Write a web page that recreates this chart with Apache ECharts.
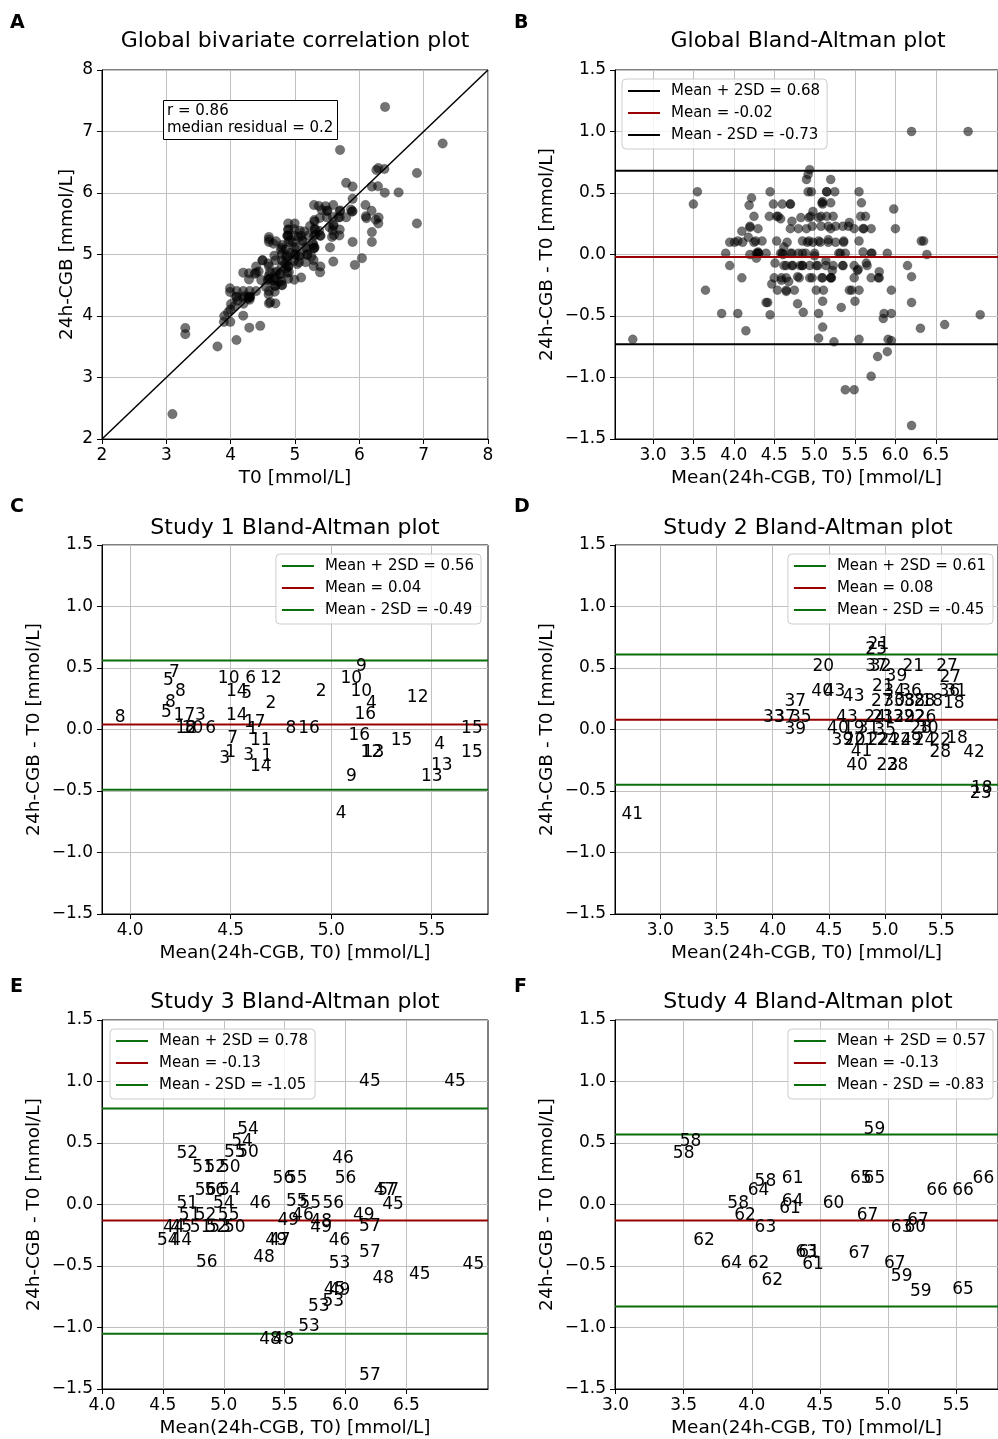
<!DOCTYPE html>
<html><head><meta charset="utf-8">
<script src="https://cdn.jsdelivr.net/npm/echarts@6/dist/echarts.min.js"></script>
<style>html,body{margin:0;padding:0;background:#fff}#chart{width:998px;height:1439px}</style>
</head><body><div id="chart"></div>
<script>
// ---------------- DATA (mean of the two methods, difference 24h-CGB - T0, subject id) ----------------
const s1Id   = [8,7,5,8,8,5,17,3,12,8,10,6,10,6,12,14,5,2,14,17,1,7,11,1,3,3,1,14,8,16,2,9,10,10,4,16,16,12,13,9,4,12,15,4,13,13,15,15];
const s1Mean = [3.95,4.22,4.19,4.25,4.20,4.18,4.27,4.35,4.28,4.30,4.31,4.40,4.49,4.60,4.70,4.53,4.58,4.70,4.53,4.62,4.61,4.51,4.65,4.50,4.47,4.59,4.68,4.65,4.80,4.89,4.95,5.15,5.10,5.15,5.20,5.17,5.14,5.20,5.21,5.10,5.05,5.43,5.35,5.54,5.55,5.50,5.70,5.70];
const s1Diff = [0.10,0.46,0.40,0.31,0.22,0.14,0.11,0.11,0.01,0.01,0.01,0.01,0.41,0.41,0.41,0.31,0.29,0.21,0.11,0.06,0.00,-0.07,-0.09,-0.19,-0.24,-0.21,-0.22,-0.30,0.01,0.01,0.31,0.51,0.41,0.31,0.21,0.12,-0.05,-0.19,-0.19,-0.38,-0.68,0.26,-0.09,-0.12,-0.29,-0.38,0.01,-0.19];

const s2Id   = [21,25,20,37,32,21,27,39,27,40,43,43,21,34,36,36,31,18,27,30,38,38,28,18,43,24,21,33,29,22,26,37,33,37,35,39,40,19,31,35,28,30,39,20,21,22,24,24,29,24,22,18,28,42,41,40,23,28,18,23,41];
const s2Mean = [4.94,4.92,4.45,4.92,4.96,5.25,5.55,5.10,5.58,4.44,4.55,4.72,4.98,5.08,5.23,5.57,5.63,5.61,4.97,5.08,5.17,5.26,5.35,5.42,4.66,4.91,4.98,5.07,5.17,5.26,5.36,4.20,4.01,4.11,4.25,4.20,4.58,4.72,4.85,5.00,5.32,5.38,4.62,4.73,4.82,4.94,5.02,5.14,5.23,5.35,5.49,5.64,5.49,5.79,4.79,4.75,5.02,5.11,5.86,5.85,2.75];
const s2Diff = [0.69,0.65,0.51,0.51,0.51,0.51,0.51,0.43,0.42,0.31,0.31,0.27,0.35,0.31,0.31,0.31,0.31,0.21,0.23,0.23,0.23,0.23,0.23,0.23,0.10,0.10,0.10,0.10,0.10,0.10,0.10,0.23,0.10,0.10,0.10,0.00,0.01,0.01,0.01,-0.01,0.01,0.01,-0.09,-0.09,-0.09,-0.09,-0.09,-0.09,-0.09,-0.09,-0.09,-0.07,-0.19,-0.19,-0.18,-0.29,-0.29,-0.29,-0.48,-0.52,-0.69];

const s3Id   = [54,54,55,50,52,51,52,50,56,55,46,56,56,56,54,47,57,51,54,46,55,55,56,45,51,52,55,46,49,48,49,49,57,44,45,51,52,53,50,54,44,49,47,46,56,48,53,57,48,45,45,45,49,53,53,53,48,48,57,45,45];
const s3Mean = [5.20,5.15,5.09,5.20,4.70,4.83,4.93,5.05,5.49,5.60,5.98,6.00,4.85,4.93,5.05,6.32,6.35,4.70,5.00,5.30,5.60,5.71,5.90,6.39,4.72,4.85,5.04,5.65,5.53,5.80,5.80,6.15,6.20,4.59,4.65,4.81,4.94,4.97,5.09,4.54,4.65,5.43,5.46,5.95,4.86,5.33,5.95,6.20,6.31,6.61,7.05,5.91,5.95,5.90,5.78,5.70,5.38,5.49,6.20,6.20,6.90];
const s3Diff = [0.61,0.51,0.42,0.42,0.41,0.30,0.30,0.30,0.21,0.21,0.37,0.21,0.11,0.11,0.11,0.11,0.11,0.01,0.01,0.01,0.02,0.01,0.01,0.00,-0.09,-0.09,-0.09,-0.09,-0.13,-0.14,-0.19,-0.09,-0.18,-0.19,-0.19,-0.19,-0.19,-0.19,-0.19,-0.29,-0.29,-0.29,-0.29,-0.29,-0.47,-0.43,-0.48,-0.39,-0.60,-0.57,-0.49,-0.69,-0.70,-0.79,-0.83,-0.99,-1.10,-1.10,-1.39,1.00,1.00];

const s4Id   = [59,58,58,58,61,64,65,65,66,66,66,58,64,61,60,62,67,63,63,60,67,62,63,61,67,64,62,61,67,59,59,65,62];
const s4Mean = [4.90,3.55,3.50,4.10,4.30,4.05,4.80,4.90,5.36,5.55,5.70,3.90,4.30,4.28,4.60,3.95,4.85,4.10,5.10,5.20,5.22,3.65,4.40,4.42,4.79,3.85,4.05,4.45,5.05,5.10,5.24,5.55,4.15];
const s4Diff = [0.61,0.51,0.41,0.19,0.21,0.11,0.21,0.21,0.11,0.11,0.21,0.01,0.02,-0.03,0.01,-0.09,-0.09,-0.19,-0.19,-0.19,-0.13,-0.29,-0.39,-0.39,-0.40,-0.48,-0.48,-0.49,-0.48,-0.59,-0.71,-0.69,-0.62];

// Limits of agreement as printed in the legends
const gLoA  = [0.68, -0.02, -0.73];
const s1LoA = [0.56, 0.04, -0.49];
const s2LoA = [0.61, 0.08, -0.45];
const s3LoA = [0.78, -0.13, -1.05];
const s4LoA = [0.57, -0.13, -0.83];

// axis ranges and tick labels
const aRange  = [2, 8];
const aTicks  = [2, 3, 4, 5, 6, 7, 8];
const baYRange = [-1.5, 1.5];
const baYTicks = [-1.5, -1.0, -0.5, 0, 0.5, 1.0, 1.5];
const bXRange = [2.53, 7.27];
const bXTicks = [3.0, 3.5, 4.0, 4.5, 5.0, 5.5, 6.0, 6.5];
const cXRange = [3.86, 5.78];
const cXTicks = [4.0, 4.5, 5.0, 5.5];
const dXRange = [2.597, 6.004];
const dXTicks = [3.0, 3.5, 4.0, 4.5, 5.0, 5.5];
const eXRange = [4.0, 7.17];
const eXTicks = [4.0, 4.5, 5.0, 5.5, 6.0, 6.5];
const fXRange = [2.996, 5.807];
const fXTicks = [3.0, 3.5, 4.0, 4.5, 5.0, 5.5];

// ---------------- BUILD ----------------
const FONT = 'DejaVu Sans';
const GREEN = '#0a6e0a', RED = '#990000', BLACK = '#000000';

function zip(m, d, id) { return m.map((v, i) => id ? [v, d[i], id[i]] : [v, d[i]]); }
const allMean = [].concat(s1Mean, s2Mean, s3Mean, s4Mean);
const allDiff = [].concat(s1Diff, s2Diff, s3Diff, s4Diff);
// Panel A pairs: T0 = mean - diff/2, 24h-CGB = mean + diff/2
const corrData = allMean.map((m, i) => [m - allDiff[i] / 2, m + allDiff[i] / 2]);
const baData = zip(allMean, allDiff);

const grids = [
  {left: 102, top: 70, width: 386, height: 369},
  {left: 615, top: 70, width: 386, height: 369},
  {left: 102, top: 545, width: 386, height: 369},
  {left: 615, top: 545, width: 386, height: 369},
  {left: 102, top: 1020, width: 386, height: 369},
  {left: 615, top: 1020, width: 386, height: 369}
].map(g => Object.assign({show: true, borderColor: '#000', borderWidth: 1, backgroundColor: 'transparent', containLabel: false}, g));

const fmt1 = v => (v < 0 ? '\u2212' : '') + Math.abs(v).toFixed(1);
const fmt0 = v => String(Math.round(v));

function axis(i, range, ticks, fmt, name, isY, nameGap) {
  return {
    gridIndex: i, type: 'value', min: range[0], max: range[1],
    name: name, nameLocation: 'middle', nameGap: nameGap,
    nameTextStyle: {fontFamily: FONT, fontSize: 18.5, color: '#000'},
    axisLine: {show: true, onZero: false, lineStyle: {color: '#000', width: 1}},
    axisTick: {show: true, length: 5, inside: false, lineStyle: {color: '#000', width: 1}, customValues: ticks},
    axisLabel: {customValues: ticks, formatter: fmt, margin: isY ? 9 : 8, fontFamily: FONT, fontSize: 17, color: '#000'},
    splitLine: {show: true, lineStyle: {color: '#c0c0c0', width: 1}}
  };
}

const xLabelBA = 'Mean(24h-CGB, T0) [mmol/L]';
const yLabelBA = '24h-CGB - T0 [mmol/L]';
const xAxes = [
  axis(0, aRange, aTicks, fmt0, 'T0 [mmol/L]', false, 30),
  axis(1, bXRange, bXTicks, fmt1, xLabelBA, false, 30),
  axis(2, cXRange, cXTicks, fmt1, xLabelBA, false, 30),
  axis(3, dXRange, dXTicks, fmt1, xLabelBA, false, 30),
  axis(4, eXRange, eXTicks, fmt1, xLabelBA, false, 30),
  axis(5, fXRange, fXTicks, fmt1, xLabelBA, false, 30)
];
const yAxes = [
  axis(0, aRange, aTicks, fmt0, '24h-CGB [mmol/L]', true, 25),
  axis(1, baYRange, baYTicks, fmt1, yLabelBA, true, 58),
  axis(2, baYRange, baYTicks, fmt1, yLabelBA, true, 58),
  axis(3, baYRange, baYTicks, fmt1, yLabelBA, true, 58),
  axis(4, baYRange, baYTicks, fmt1, yLabelBA, true, 58),
  axis(5, baYRange, baYTicks, fmt1, yLabelBA, true, 58)
];

const dotStyle = {color: 'rgba(0,0,0,0.55)', opacity: 1, borderColor: 'rgba(0,0,0,0.25)', borderWidth: 0.8};
const series = [];
// Panel A
series.push({type: 'scatter', xAxisIndex: 0, yAxisIndex: 0, data: corrData, symbolSize: 9.5,
  itemStyle: dotStyle, silent: true, z: 3});
series.push({type: 'line', xAxisIndex: 0, yAxisIndex: 0, data: [[aRange[0], aRange[0]], [aRange[1], aRange[1]]],
  showSymbol: false, symbol: 'none', lineStyle: {color: '#000', width: 1.5}, silent: true, z: 4});
// Panel B
series.push({type: 'scatter', xAxisIndex: 1, yAxisIndex: 1, data: baData, symbolSize: 9,
  itemStyle: dotStyle, silent: true, z: 3});

function loaNames(loa) {
  return ['Mean + 2SD = ' + loa[0].toFixed(2), 'Mean = ' + loa[1].toFixed(2), 'Mean - 2SD = ' + loa[2].toFixed(2)];
}
function addLoA(idx, loa, xr, limColor) {
  const names = loaNames(loa);
  const cols = [limColor, RED, limColor];
  loa.forEach((v, k) => {
    series.push({type: 'line', name: names[k], xAxisIndex: idx, yAxisIndex: idx,
      data: [[xr[0], v], [xr[1], v]], showSymbol: false, symbol: 'none', color: cols[k],
      itemStyle: {color: cols[k]}, lineStyle: {color: cols[k], width: 2}, silent: true, z: 5});
  });
  return names;
}
const bNames = addLoA(1, gLoA, bXRange, BLACK);

function addLabels(idx, m, d, id) {
  series.push({type: 'scatter', xAxisIndex: idx, yAxisIndex: idx, data: zip(m, d, id), symbolSize: 1,
    itemStyle: {color: 'rgba(0,0,0,0)', opacity: 1}, silent: true, z: 6,
    label: {show: true, position: 'inside', formatter: p => String(p.value[2]), opacity: 1,
      textBorderWidth: 0, textBorderColor: 'transparent',
      fontFamily: FONT, fontSize: 17, color: '#000'}});
}
addLabels(2, s1Mean, s1Diff, s1Id);
const cNames = addLoA(2, s1LoA, cXRange, GREEN);
addLabels(3, s2Mean, s2Diff, s2Id);
const dNames = addLoA(3, s2LoA, dXRange, GREEN);
addLabels(4, s3Mean, s3Diff, s3Id);
const eNames = addLoA(4, s3LoA, eXRange, GREEN);
addLabels(5, s4Mean, s4Diff, s4Id);
const fNames = addLoA(5, s4LoA, fXRange, GREEN);

function legend(pos, names) {
  return Object.assign({
    orient: 'vertical', itemWidth: 32, itemHeight: 2, icon: 'rect', itemGap: 4,
    backgroundColor: 'rgba(255,255,255,0.8)', borderColor: '#cccccc', borderWidth: 1, borderRadius: 4,
    padding: [3, 7, 5, 6], selectedMode: false,
    textStyle: {fontFamily: FONT, fontSize: 15, color: '#000', lineHeight: 18, padding: [0, 0, 0, 6]},
    data: names
  }, pos);
}

function title(text, cx, top, size, bold) {
  return {text: text, left: cx, top: top, textAlign: bold ? 'left' : 'center', padding: 0,
    textStyle: {fontFamily: FONT, fontSize: size, fontWeight: bold ? 'bold' : 'normal', color: '#000', lineHeight: size + 4}};
}

const option = {
  animation: false,
  backgroundColor: '#ffffff',
  title: [
    title('Global bivariate correlation plot', 295, 28, 22),
    title('Global Bland-Altman plot', 808, 28, 22),
    title('Study 1 Bland-Altman plot', 295, 515, 22),
    title('Study 2 Bland-Altman plot', 808, 515, 22),
    title('Study 3 Bland-Altman plot', 295, 989, 22),
    title('Study 4 Bland-Altman plot', 808, 989, 22),
    title('A', 10, 12, 19, true),
    title('B', 514, 12, 19, true),
    title('C', 10, 496, 19, true),
    title('D', 514, 496, 19, true),
    title('E', 10, 976, 19, true),
    title('F', 514, 976, 19, true),
    {text: 'r = 0.86\nmedian residual = 0.2', left: 163, top: 100, padding: [3, 4, 4, 4],
      borderWidth: 1, borderColor: '#000', backgroundColor: '#fff',
      textStyle: {fontFamily: FONT, fontSize: 15, fontWeight: 'normal', color: '#000', lineHeight: 16.5}}
  ],
  legend: [
    legend({left: 622, top: 79}, bNames),
    legend({right: 517, top: 554}, cNames),
    legend({right: 5, top: 554}, dNames),
    legend({left: 110, top: 1029}, eNames),
    legend({right: 5, top: 1029}, fNames)
  ],
  grid: grids,
  xAxis: xAxes,
  yAxis: yAxes,
  series: series
};

const chart = echarts.init(document.getElementById('chart'), null, {renderer: 'canvas'});
chart.setOption(option);
</script>
</body></html>
